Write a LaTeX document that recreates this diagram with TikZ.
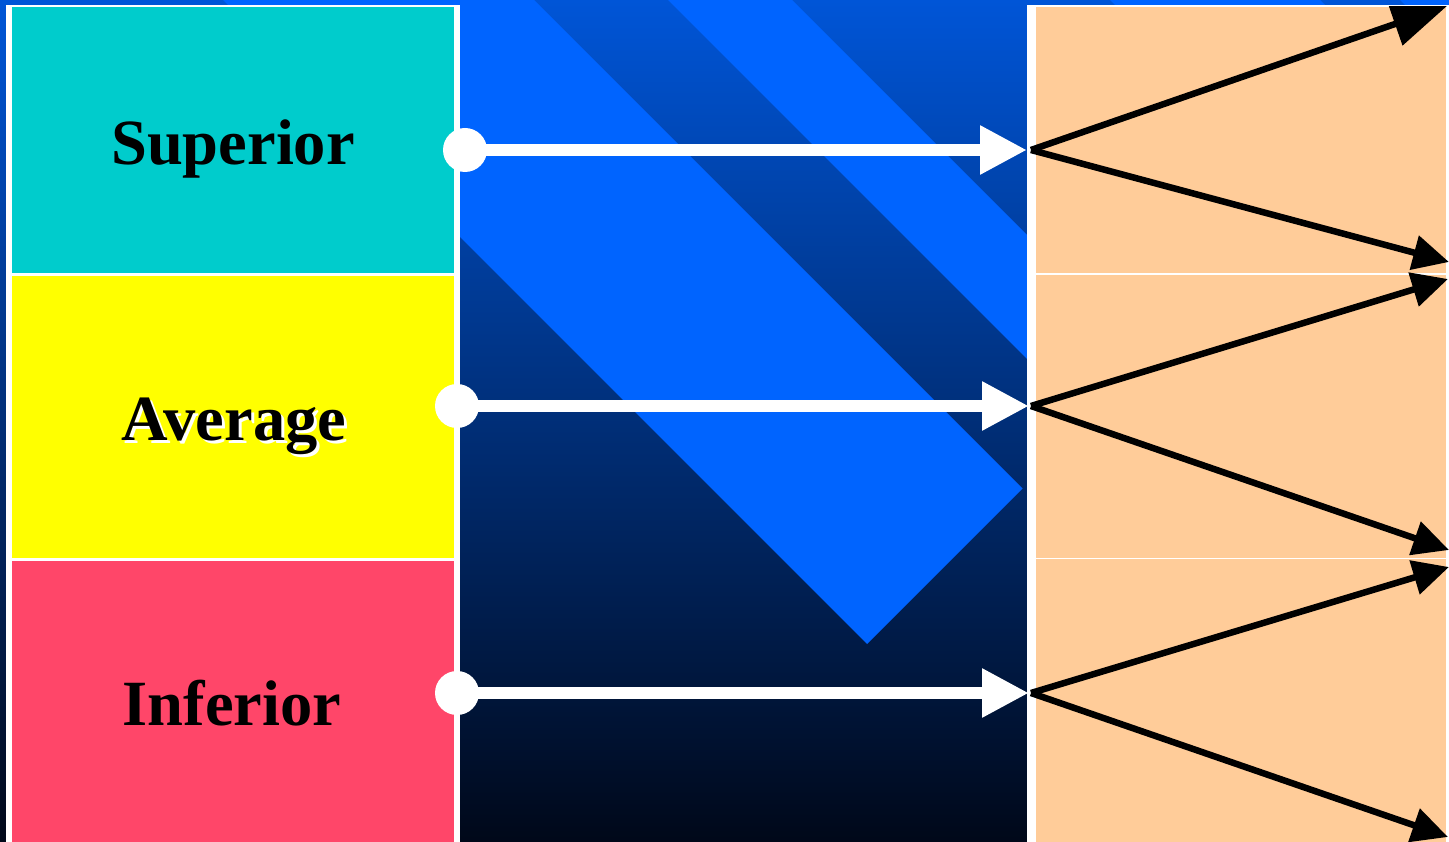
\documentclass[tikz,border=0pt]{standalone}
\usepackage{fontspec}
\setmainfont{Liberation Serif}
\usetikzlibrary{arrows.meta}
\definecolor{bgtop}{RGB}{0,85,215}
\definecolor{bgmid}{RGB}{0,50,130}
\definecolor{bgbot}{RGB}{0,8,25}
\definecolor{stripe}{RGB}{0,100,255}
\definecolor{supc}{RGB}{0,204,204}
\definecolor{avgc}{RGB}{255,255,0}
\definecolor{infc}{RGB}{255,70,105}
\definecolor{peach}{RGB}{255,204,153}
\begin{document}
\begin{tikzpicture}[x=1pt,y=-1pt,
  box/.style={rectangle, inner sep=0pt, outer sep=0pt, anchor=north west},
  lbl/.style={font=\fontsize{64.5}{70}\selectfont\bfseries, anchor=base, inner sep=0pt},
  dot/.style={circle, fill=white, minimum size=44pt, inner sep=0pt},
  warrow/.style={white, line width=12pt, -{Triangle[length=47pt,width=46pt]}},
  barrow/.style={black, line width=6.5pt, -{Triangle[length=36pt,width=34pt]}},
  bigbarrow/.style={black, line width=6.5pt, -{Triangle[length=55pt,width=44pt]}}
]
\useasboundingbox (0,0) rectangle (1449,842);
% background
\shade[top color=bgtop, middle color=bgmid, bottom color=bgbot] (0,0) rectangle (1449,842);
% diagonal stripes
\fill[stripe] (213,-10) -- (524,-10) -- (1022.5,488.5) -- (867,644) -- cycle;
\fill[stripe] (658,-10) -- (782,-10) -- (1100,308) -- (1100,432) -- cycle;
\fill[stripe] (1100,-10) -- (1310,-10) -- (1330,10) -- (1120,10) -- cycle;
\fill[stripe] (1390,-10) -- (1500,-10) -- (1500,10) -- (1410,10) -- cycle;
% left column
\fill[white] (6,5) rectangle (460,842);
\node[box, fill=supc, minimum width=442.5pt, minimum height=266pt] (sup) at (11.5,7) {};
\node[box, fill=avgc, minimum width=442.5pt, minimum height=281.5pt] (avg) at (11.5,276.5) {};
\node[box, fill=infc, minimum width=442.5pt, minimum height=283pt] (inf) at (11.5,561) {};
% right column
\fill[white] (1027,5) rectangle (1449,842);
\node[box, fill=peach, minimum width=410pt, minimum height=266pt] (p1) at (1036,7) {};
\node[box, fill=peach, minimum width=410pt, minimum height=282pt] (p2) at (1036,275.5) {};
\node[box, fill=peach, minimum width=410pt, minimum height=283pt] (p3) at (1036,559) {};
% white connectors
\node[dot] (c1) at (465,150) {};
\node[dot] (c2) at (457,406) {};
\node[dot] (c3) at (457,693) {};
\coordinate (t1) at (1027,150);
\coordinate (t2) at (1029,406);
\coordinate (t3) at (1029,693);
\draw[warrow] (c1.center) -- (t1);
\draw[warrow] (c2.center) -- (t2);
\draw[warrow] (c3.center) -- (t3);
% black fan arrows
\coordinate (s1) at (1031,150);
\coordinate (s2) at (1031,406);
\coordinate (s3) at (1031,693);
\coordinate (e1a) at (1447,6);
\coordinate (e1b) at (1449,262);
\coordinate (e2a) at (1448,279);
\coordinate (e2b) at (1449,550);
\coordinate (e3a) at (1449,567);
\coordinate (e3b) at (1448,837);
\begin{scope}
\clip (1027,7) rectangle (1449,842);
\draw[bigbarrow] (s1) -- (e1a);
\draw[barrow] (s1) -- (e1b);
\draw[barrow] (s2) -- (e2a);
\draw[barrow] (s2) -- (e2b);
\draw[barrow] (s3) -- (e3a);
\draw[barrow] (s3) -- (e3b);
\end{scope}
% labels
\node[lbl] (tsup) at (233,165) {Superior};
\node[lbl, white] (tavgs) at (237,443) {Average};
\node[lbl] (tavg) at (234,440) {Average};
\node[lbl] (tinf) at (232,725) {Inferior};
\end{tikzpicture}
\end{document}
